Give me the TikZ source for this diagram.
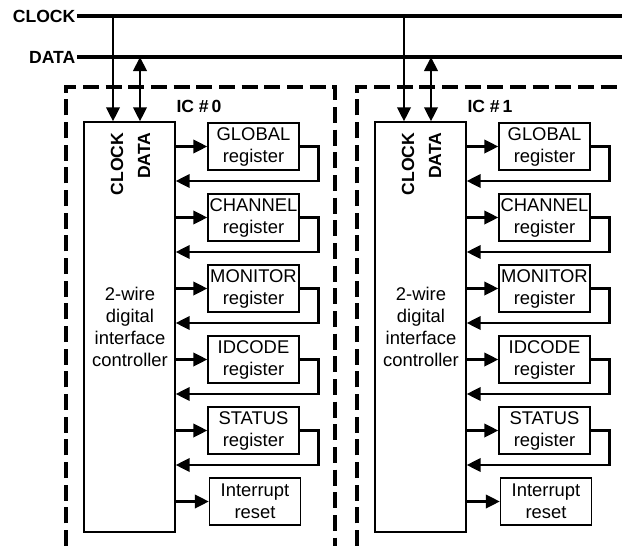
\documentclass[tikz,border=0pt]{standalone}
\usepackage{fontspec}
\setmainfont{Liberation Sans}
\usetikzlibrary{arrows.meta}
\begin{document}
\begin{tikzpicture}[x=0.75pt,y=-0.75pt,
 bus/.style={line width=2.6pt},
 tip/.tip={Triangle[length=10.5pt,width=10pt]},
 arr/.style={line width=2.1pt,-tip},
 darr/.style={line width=2.1pt,tip-tip},
 regbox/.style={draw,line width=1pt,minimum width=68.25pt,minimum height=35.25pt,inner sep=0pt,align=center,font=\fontsize{13.8}{16.5}\selectfont},
 ctrlbox/.style={draw,line width=1pt,minimum width=68.25pt,minimum height=307.5pt,inner sep=0pt},
 icbox/.style={line width=2.5pt,dash pattern=on 12pt off 5pt},
 blab/.style={font=\fontsize{13.2}{15}\selectfont\bfseries,inner sep=1pt},
 txt/.style={font=\fontsize{13.8}{16.5}\selectfont,align=center}
]
\useasboundingbox (0,0) rectangle (622,546);
% buses
\node[blab,anchor=east] (clk) at (77,16) {CLOCK};
\node[blab,anchor=east] (dat) at (77,57) {DATA};
\coordinate (clkend) at (622,16);
\coordinate (datend) at (622,57);
\draw[bus] (clk.east) -- (clkend);
\draw[bus,line width=3pt] (dat.east) -- (datend);
% IC boxes
\draw[icbox] (66,546) -- (66,87) -- (335,87) -- (335,546);
\draw[icbox] (357,546) -- (357,87) -- (622,87);
\foreach \i/\o in {0/0,1/291}{
  \node[ctrlbox] (c\i) at (129.5+\o,327) {};
  \node[blab,rotate=90,anchor=east] (cl\i) at (117+\o,131) {CLOCK};
  \node[blab,rotate=90,anchor=east] (da\i) at (144+\o,131) {DATA};
  \node[txt] (ct\i) at (130+\o,327) {2-wire\\digital\\interface\\controller};
  \node[blab] (ic\i) at (199+\o,106) {IC \#\,\i};
  \coordinate (cb\i) at (113+\o,16);
  \coordinate (db\i) at (140+\o,57);
  \draw[arr] (cb\i) -- (cb\i |- c\i.north);
  \draw[darr] (db\i) -- (db\i |- c\i.north);
  \foreach \j/\t/\lab in {0/123/{GLOBAL\\register},1/194/{CHANNEL\\register},2/265/{MONITOR\\register},3/336/{IDCODE\\register},4/407/{STATUS\\register}}{
    \node[regbox] (r\i\j) at (253.5+\o,\t+23.5) {\lab};
    \draw[arr] (c\i.east |- r\i\j.west) -- (r\i\j.west);
    \draw[arr] (r\i\j.east) -- ++(18.5,0) |- (c\i.east |- 0,\t+58);
  }
  \node[regbox] (r\i5) at (255+\o,501.5) {Interrupt\\reset};
  \draw[arr] (c\i.east |- r\i5.west) -- (r\i5.west);
}
\end{tikzpicture}
\end{document}
